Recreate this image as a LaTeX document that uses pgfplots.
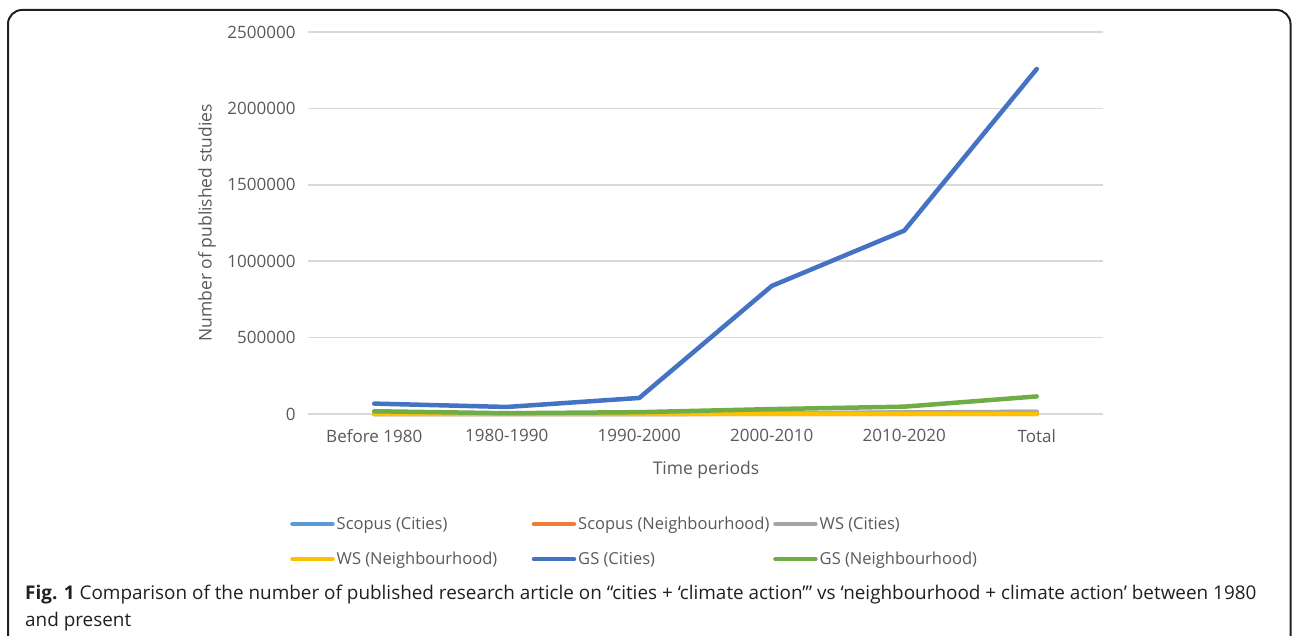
\documentclass[border=0pt]{standalone}
\usepackage{pgfplots}
\pgfplotsset{compat=1.18}
\usepackage{fontspec}
\setmainfont{Open Sans}
\definecolor{sblue}{HTML}{5B9BD5}
\definecolor{sorange}{HTML}{ED7D31}
\definecolor{sgray}{HTML}{A5A5A5}
\definecolor{syellow}{HTML}{FFC000}
\definecolor{gblue}{HTML}{4472C4}
\definecolor{ggreen}{HTML}{70AD47}
\definecolor{txt}{HTML}{595959}
\definecolor{gridc}{HTML}{D9D9D9}
\definecolor{frame}{HTML}{231F20}
\begin{document}
\begin{tikzpicture}[x=1pt,y=1pt]
\useasboundingbox (0,0) rectangle (1292,636);
% frame
\draw[frame, line width=2pt, rounded corners=14pt] (8,-30) -- (8,626) -- (1290.5,626) -- (1290.5,-30);
\begin{axis}[
  at={(308pt,222pt)}, anchor=south west,
  scale only axis, width=795pt, height=382pt,
  xmin=-0.5, xmax=5.5, ymin=0, ymax=2500000,
  xtick={0,1,2,3,4,5},
  xticklabels={Before 1980,1980-1990,1990-2000,2000-2010,2010-2020,Total},
  ytick={0,500000,1000000,1500000,2000000,2500000},
  scaled y ticks=false,
  yticklabel style={/pgf/number format/fixed,/pgf/number format/1000 sep={}},
  /pgf/number format/assume math mode=true,
  axis line style={draw=none},
  major tick style={draw=none},
  ymajorgrids, grid style={gridc, line width=1.5pt},
  tick label style={font=\fontsize{17}{20}\selectfont, text=txt},
  yticklabel style={xshift=-9pt},
  xticklabel style={yshift=-12pt},
  clip=false,
  legend columns=3,
  legend style={at={(rel axis cs:-0.0226,-0.264)}, anchor=north west, draw=none, fill=none,
    inner sep=0pt, row sep=17pt, column sep=0pt,
    font=\fontsize{16.5}{19}\selectfont, text=txt},
  legend cell align=left,
  legend image code/.code={\draw[#1, line width=4.5pt, line cap=round] (0pt,0pt) -- (40pt,0pt);},
  every axis plot/.append style={line width=4.5pt, line join=round, line cap=round, mark=none},
]
\addplot[sblue] coordinates {(0,200) (1,100) (2,500) (3,2500) (4,9000) (5,12300)};
\addlegendentry{\makebox[193pt][l]{Scopus (Cities)}}
\addplot[sorange] coordinates {(0,0) (1,0) (2,10) (3,60) (4,300) (5,370)};
\addlegendentry{\makebox[193pt][l]{Scopus (Neighbourhood)}}
\addplot[sgray] coordinates {(0,300) (1,200) (2,800) (3,3000) (4,10000) (5,14300)};
\addlegendentry{WS (Cities)}
\addplot[syellow] coordinates {(0,0) (1,0) (2,10) (3,80) (4,400) (5,490)};
\addlegendentry{\makebox[193pt][l]{WS (Neighbourhood)}}
\addplot[gblue] coordinates {(0,68000) (1,46000) (2,105000) (3,838000) (4,1200000) (5,2258000)};
\addlegendentry{\makebox[193pt][l]{GS (Cities)}}
\addplot[ggreen] coordinates {(0,18000) (1,5000) (2,12000) (3,32000) (4,48000) (5,115000)};
\addlegendentry{GS (Neighbourhood)}
\end{axis}
\node[rotate=90, text=txt, font=\fontsize{17.5}{20}\selectfont] at (207,413) {Number of published studies};
\node[text=txt, font=\fontsize{17.5}{20}\selectfont] at (706,166) {Time periods};
\node[anchor=north west, inner sep=0pt, align=left, text=frame, font=\fontsize{18.9}{27}\selectfont] at (25,51) {\textbf{Fig. 1} Comparison of the number of published research article on “cities + ‘climate action’” vs ‘neighbourhood + climate action’ between 1980\\and present};
\end{tikzpicture}
\end{document}
